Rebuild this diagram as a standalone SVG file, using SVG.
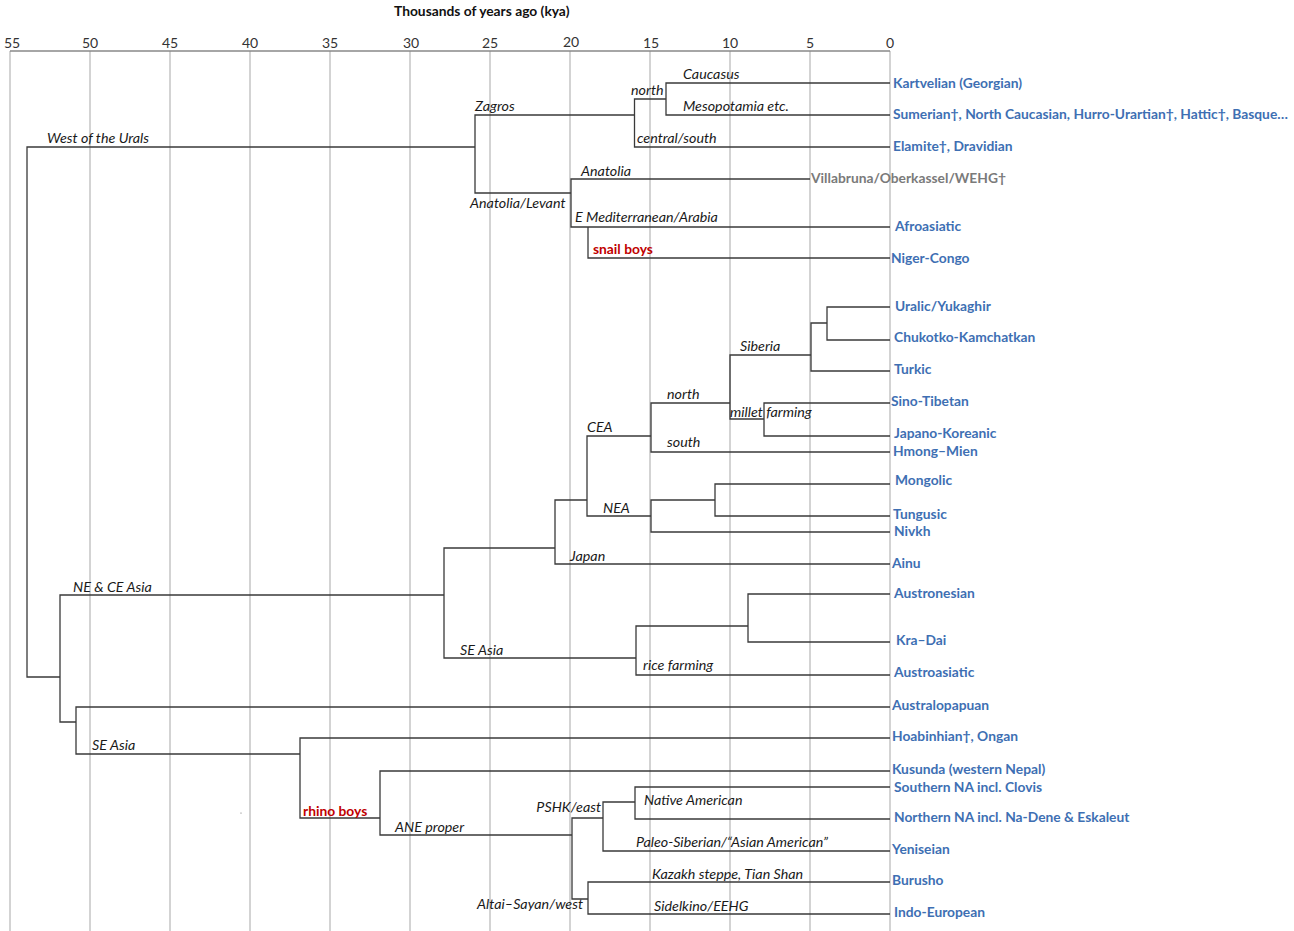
<svg xmlns="http://www.w3.org/2000/svg" width="1294" height="931" viewBox="0 0 1294 931">
<style>
.grid{stroke:#d3d3d3;stroke-width:2;fill:none}
.axis{stroke:#888;stroke-width:1.6;fill:none}
.br{stroke:#3a3a3a;stroke-width:1.3;fill:none}
.tick{font-family:Lato,"Liberation Sans",sans-serif;font-size:14px;fill:#333;text-anchor:middle}
.title{font-family:Lato,"Liberation Sans",sans-serif;font-size:13.8px;font-weight:bold;fill:#111}
.lab{font-family:Lato,"Liberation Sans",sans-serif;font-size:14.3px;font-style:italic;fill:#1a1a1a}
.leaf{font-family:Lato,"Liberation Sans",sans-serif;font-size:13.8px;font-weight:bold;fill:#3e6fb3}
.gray{font-family:Lato,"Liberation Sans",sans-serif;font-size:13.8px;font-weight:bold;fill:#7a7a7a}
.red{font-family:Lato,"Liberation Sans",sans-serif;font-size:13.8px;font-weight:bold;fill:#c00000}
</style>
<rect width="1294" height="931" fill="#fff"/>
<g id="axis">
<text class="title" x="394" y="16">Thousands of years ago (kya)</text>
<g class="grid">
<path d="M10,51V931M90,51V931M170,51V931M250,51V931M330,51V931M410,51V931M490,51V931M570,51V931M650,51V931M730,51V931M810,51V931M890,51V931"/>
</g>
<path class="axis" d="M10,51H890"/>
<text class="tick" x="12" y="48">55</text>
<text class="tick" x="90" y="48">50</text>
<text class="tick" x="170" y="48">45</text>
<text class="tick" x="250" y="48">40</text>
<text class="tick" x="330" y="48">35</text>
<text class="tick" x="411" y="48">30</text>
<text class="tick" x="490" y="48">25</text>
<text class="tick" x="571" y="47">20</text>
<text class="tick" x="651" y="48">15</text>
<text class="tick" x="730" y="48">10</text>
<text class="tick" x="810" y="48">5</text>
<text class="tick" x="890" y="48">0</text>
</g>
<g id="connectors" class="br">
<path d="M475,147H27V677H60"/>
<path d="M634.5,115H475V193H571"/>
<path d="M666,99H634.5V147H890"/>
<path d="M890,83H666V115H890"/>
<path d="M810,179H571V227H890"/>
<path d="M588,227V258H890"/>
<path d="M444,595H60V722H76"/>
<path d="M890,707H76V754H300"/>
<path d="M890,738H300V818H380"/>
<path d="M890,771H380V835H572"/>
<path d="M603,818H572V899H588"/>
<path d="M635,802H603V851H890"/>
<path d="M890,787H635V819H890"/>
<path d="M890,882H588V914H890"/>
<path d="M555,548H444V658H636"/>
<path d="M748,626H636V675H890"/>
<path d="M890,594H748V642H890"/>
<path d="M587,500H555V564H890"/>
<path d="M651,436H587V516H651"/>
<path d="M730,403H651V452H890"/>
<path d="M811,355H730V419H764"/>
<path d="M890,403H764V436H890"/>
<path d="M827,323H811V371H890"/>
<path d="M890,307H827V340H890"/>
<path d="M715,500H651V532H890"/>
<path d="M890,484H715V516H890"/>
</g>
<g id="branch-labels">
<text class="lab" x="47" y="143">West of the Urals</text>
<text class="lab" x="475" y="111">Zagros</text>
<text class="lab" x="631" y="95">north</text>
<text class="lab" x="683" y="79">Caucasus</text>
<text class="lab" x="683" y="111">Mesopotamia etc.</text>
<text class="lab" x="637" y="143">central/south</text>
<text class="lab" x="581" y="176">Anatolia</text>
<text class="lab" x="470" y="208">Anatolia/Levant</text>
<text class="lab" x="575" y="222">E Mediterranean/Arabia</text>
<text class="red" x="593" y="254">snail boys</text>
<text class="lab" x="740" y="351">Siberia</text>
<text class="lab" x="667" y="399">north</text>
<text class="lab" x="730" y="417">millet farming</text>
<text class="lab" x="587" y="432">CEA</text>
<text class="lab" x="667" y="447">south</text>
<text class="lab" x="603" y="513">NEA</text>
<text class="lab" x="570" y="561">Japan</text>
<text class="lab" x="73" y="592">NE &amp; CE Asia</text>
<text class="lab" x="460" y="655">SE Asia</text>
<text class="lab" x="643" y="670">rice farming</text>
<text class="lab" x="92" y="750">SE Asia</text>
<text class="red" x="303" y="816">rhino boys</text>
<text class="lab" x="395" y="832">ANE proper</text>
<text class="lab" x="601" y="812" text-anchor="end">PSHK/east</text>
<text class="lab" x="644" y="805">Native American</text>
<text class="lab" x="636" y="847">Paleo-Siberian/“Asian American”</text>
<text class="lab" x="652" y="879">Kazakh steppe, Tian Shan</text>
<text class="lab" x="654" y="911">Sidelkino/EEHG</text>
<text class="lab" x="583" y="909" text-anchor="end">Altai–Sayan/west</text>
<circle cx="241" cy="813" r="0.6" fill="#666"/>
</g>
<g id="leaves">
<text class="leaf" x="893" y="88">Kartvelian (Georgian)</text>
<text class="leaf" x="893" y="119">Sumerian†, North Caucasian, Hurro-Urartian†, Hattic†, Basque…</text>
<text class="leaf" x="893" y="151">Elamite†, Dravidian</text>
<text class="gray" x="811" y="183">Villabruna/Oberkassel/WEHG†</text>
<text class="leaf" x="895" y="231">Afroasiatic</text>
<text class="leaf" x="891" y="263">Niger-Congo</text>
<text class="leaf" x="895" y="311">Uralic/Yukaghir</text>
<text class="leaf" x="894" y="342">Chukotko-Kamchatkan</text>
<text class="leaf" x="894" y="374">Turkic</text>
<text class="leaf" x="891" y="406">Sino-Tibetan</text>
<text class="leaf" x="894" y="438">Japano-Koreanic</text>
<text class="leaf" x="893" y="456">Hmong–Mien</text>
<text class="leaf" x="895" y="485">Mongolic</text>
<text class="leaf" x="893" y="519">Tungusic</text>
<text class="leaf" x="894" y="536">Nivkh</text>
<text class="leaf" x="892" y="568">Ainu</text>
<text class="leaf" x="894" y="598">Austronesian</text>
<text class="leaf" x="896" y="645">Kra–Dai</text>
<text class="leaf" x="894" y="677">Austroasiatic</text>
<text class="leaf" x="892" y="710">Australopapuan</text>
<text class="leaf" x="892" y="741">Hoabinhian†, Ongan</text>
<text class="leaf" x="892" y="774">Kusunda (western Nepal)</text>
<text class="leaf" x="894" y="792">Southern NA incl. Clovis</text>
<text class="leaf" x="894" y="822">Northern NA incl. Na-Dene &amp; Eskaleut</text>
<text class="leaf" x="892" y="854">Yeniseian</text>
<text class="leaf" x="892" y="885">Burusho</text>
<text class="leaf" x="894" y="917">Indo-European</text>
</g>
</svg>
